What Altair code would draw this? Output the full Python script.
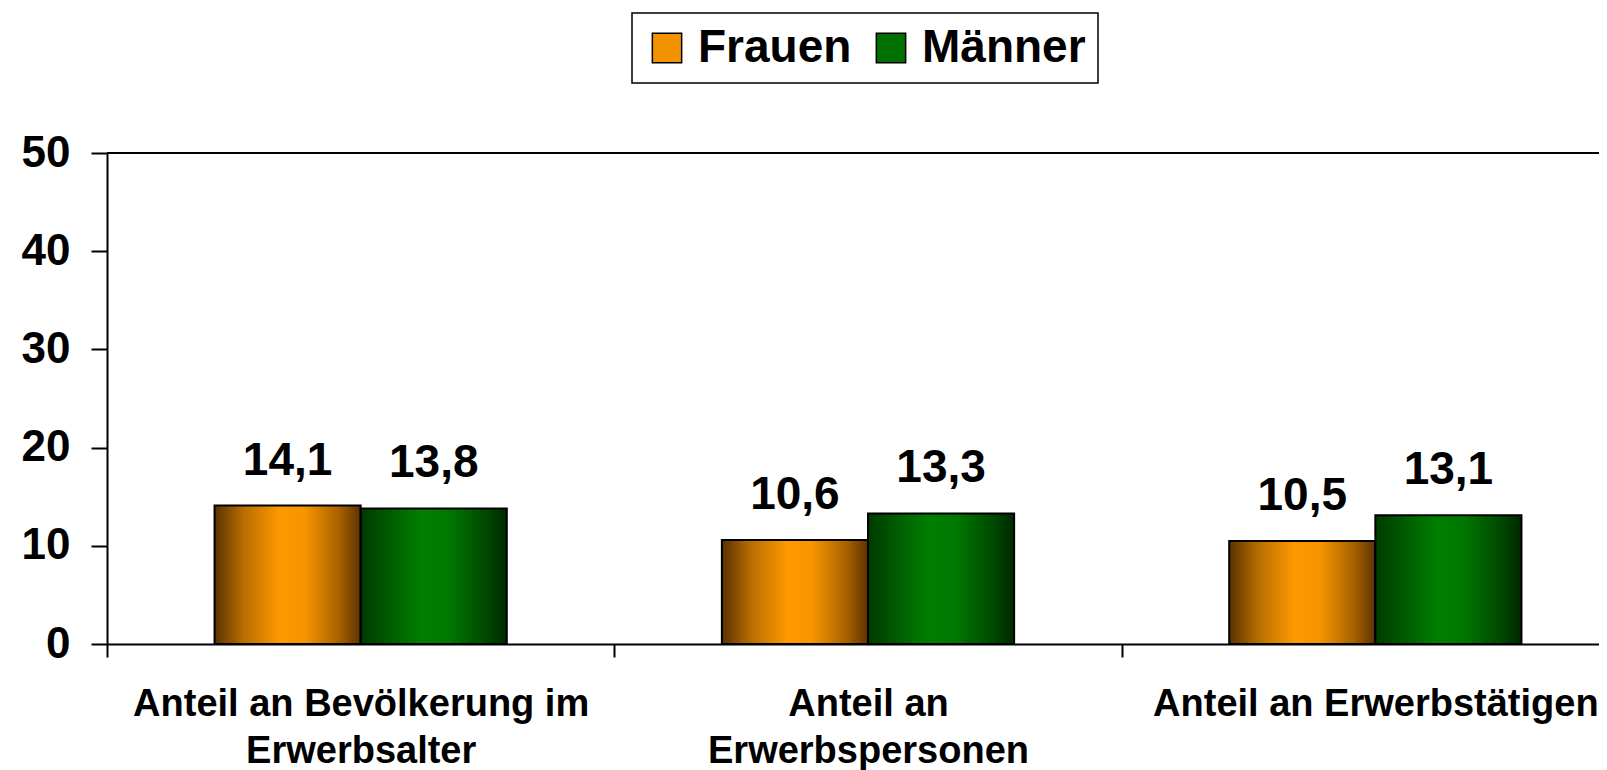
import altair as alt
import pandas as pd

categories = ["Anteil an Bevölkerung im|Erwerbsalter", "Anteil an|Erwerbspersonen", "Anteil an Erwerbstätigen"]
series = ["Frauen", "Männer"]
frauen = [14.1, 10.6, 10.5]
maenner = [13.8, 13.3, 13.1]
y_ticks = [0, 10, 20, 30, 40, 50]
solid_colors = ["#F39200", "#007000"]

rows = []
for c, f, m in zip(categories, frauen, maenner):
    rows.append({"Kategorie": c, "Geschlecht": series[0], "Wert": f})
    rows.append({"Kategorie": c, "Geschlecht": series[1], "Wert": m})
df = pd.DataFrame(rows)

FONT = "Liberation Sans"

grad_f = alt.LinearGradient(
    gradient="linear", x1=0, x2=1, y1=0, y2=0,
    stops=[
        alt.GradientStop(color="#5A3200", offset=0),
        alt.GradientStop(color="#B86E00", offset=0.2),
        alt.GradientStop(color="#FF9900", offset=0.45),
        alt.GradientStop(color="#F79400", offset=0.62),
        alt.GradientStop(color="#A86200", offset=0.85),
        alt.GradientStop(color="#5E3300", offset=1),
    ],
)
grad_m = alt.LinearGradient(
    gradient="linear", x1=0, x2=1, y1=0, y2=0,
    stops=[
        alt.GradientStop(color="#003A00", offset=0),
        alt.GradientStop(color="#005C00", offset=0.2),
        alt.GradientStop(color="#007F00", offset=0.42),
        alt.GradientStop(color="#007800", offset=0.6),
        alt.GradientStop(color="#004A00", offset=0.85),
        alt.GradientStop(color="#002800", offset=1),
    ],
)

x_enc = alt.X(
    "Kategorie:N",
    sort=categories,
    scale=alt.Scale(range=[0, 1522], paddingInner=0, paddingOuter=0),
    axis=alt.Axis(
        title=None,
        labelAngle=0,
        labelExpr="split(datum.label, '|')",
        labelFont=FONT,
        labelFontSize=38,
        labelFontWeight="bold",
        labelColor="black",
        labelLineHeight=47,
        labelPadding=28,
        labelBaseline="top",
        labelLimit=0,
        tickBand="extent",
        tickSize=13,
        tickWidth=2,
        tickColor="black",
        domainColor="black",
        domainWidth=2,
        grid=False,
    ),
)
xo_enc = alt.XOffset(
    "Geschlecht:N", sort=series,
    scale=alt.Scale(paddingInner=0, paddingOuter=0.736),
)
y_scale = alt.Scale(domain=[0, 50], nice=False)
y_enc = alt.Y(
    "Wert:Q",
    scale=y_scale,
    axis=alt.Axis(
        title=None,
        values=y_ticks,
        labelFont=FONT,
        labelFontSize=44,
        labelFontWeight="bold",
        labelColor="black",
        labelPadding=21,
        tickSize=16,
        tickWidth=2,
        tickColor="black",
        domainColor="black",
        domainWidth=2,
        grid=False,
    ),
)

base = alt.Chart(df)

legend_bars = base.mark_bar().encode(
    x=x_enc,
    xOffset=xo_enc,
    y=y_enc,
    color=alt.Color(
        "Geschlecht:N",
        sort=series,
        scale=alt.Scale(domain=series, range=solid_colors),
        legend=alt.Legend(
            title=None,
            orient="none",
            legendX=525,
            legendY=-140,
            direction="horizontal",
            labelFont=FONT,
            labelFontSize=46,
            labelFontWeight="bold",
            labelColor="black",
            labelLimit=0,
            labelOffset=8,
            columnPadding=16,
            padding=12,
            symbolType="square",
            symbolSize=860,
            symbolStrokeColor="black",
            symbolStrokeWidth=1.5,
            strokeColor="black",
        ),
    ),
)

grad_bars = base.mark_bar(stroke="black", strokeWidth=2).encode(
    x=x_enc,
    xOffset=xo_enc,
    y=y_enc,
    fill=alt.condition(
        "datum.Geschlecht == 'Frauen'", alt.value(grad_f), alt.value(grad_m)
    ),
)

labels = base.transform_calculate(
    label="replace(format(datum.Wert, '.1f'), '.', ',')"
).mark_text(
    font=FONT, fontSize=46, fontWeight="bold", color="black",
    baseline="alphabetic", dy=-31,
).encode(
    x=x_enc,
    xOffset=xo_enc,
    y=y_enc,
    text="label:N",
)

top_rule = base.mark_rule(color="black", strokeWidth=2).encode(
    y=alt.Y(datum=y_ticks[-1])
)

chart = alt.layer(legend_bars, grad_bars, labels, top_rule).properties(
    width=1492,
    height=491,
    autosize=alt.AutoSizeParams(type="none"),
    padding={"left": 99, "top": 145, "right": 0, "bottom": 126},
).configure_view(stroke=None).configure_legend(strokeWidth=1.5)

chart.save("out.html", embed_options={"renderer": "svg", "actions": False})
